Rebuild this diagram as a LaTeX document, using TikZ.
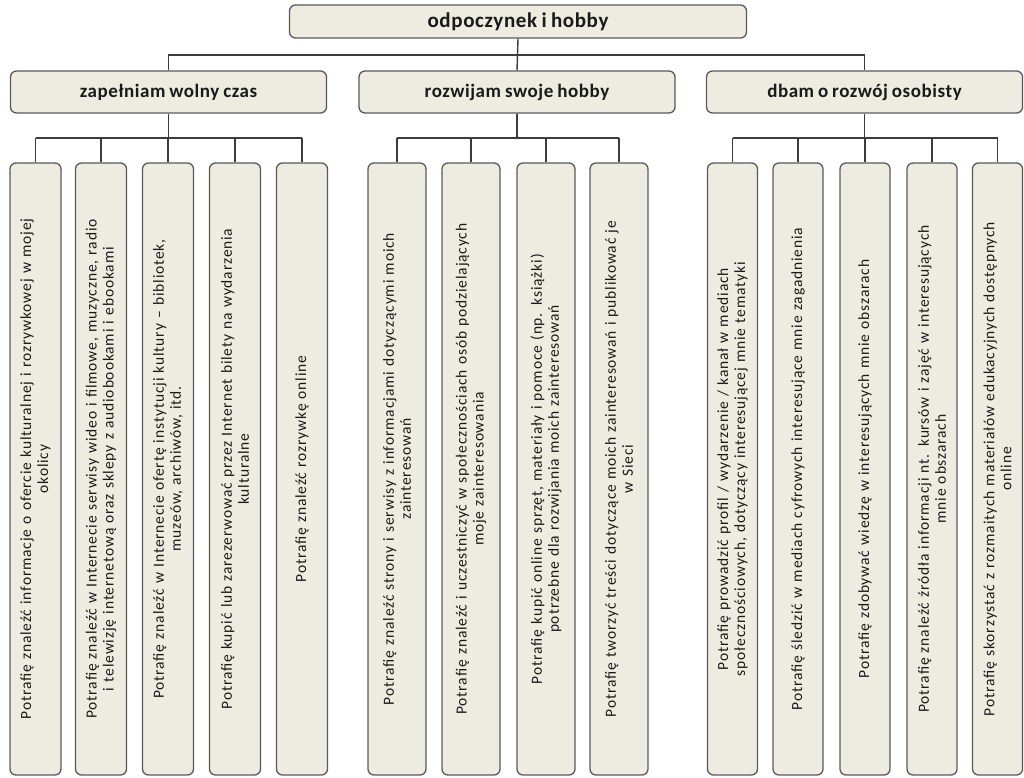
\documentclass[tikz,border=0pt]{standalone}
\usepackage{fontspec}
\setmainfont{Carlito}
\newfontfamily\leaffont{Carlito}[LetterSpace=5.5,WordSpace=0.7]
\newfontfamily\headfont{Carlito}[LetterSpace=3,WordSpace=0.8]
\definecolor{boxfill}{HTML}{EEEBE0}
\definecolor{boxline}{HTML}{5A5A5A}
\definecolor{wire}{HTML}{3C3C3C}
\definecolor{txt}{HTML}{1A1A1A}
\begin{document}
\begin{tikzpicture}[x=1pt,y=-1pt,
  every node/.style={text=txt},
  topbox/.style={draw=boxline,fill=boxfill,line width=1.3pt,rounded corners=6pt,
    minimum width=457pt,minimum height=33pt,inner sep=0pt,font=\headfont\fontsize{21}{23}\selectfont\bfseries},
  catbox/.style={draw=boxline,fill=boxfill,line width=1.3pt,rounded corners=6pt,
    minimum width=316pt,minimum height=42pt,inner sep=0pt,font=\headfont\fontsize{19}{21}\selectfont\bfseries},
  leaf/.style={draw=boxline,fill=boxfill,line width=1.3pt,rounded corners=6pt,rotate=90,
    minimum width=612pt,minimum height=#1,inner sep=0pt,text width=606pt,align=center,
    font=\leaffont\fontsize{15.5}{17}\selectfont},
  leaf/.default=51pt,
  wirestyle/.style={draw=wire,line width=1.4pt}
]
\useasboundingbox (0,0) rectangle (1024,778);
% top
\node[topbox] (top) at (518,21.5) {odpoczynek i hobby};
% categories
\node[catbox] (c1) at (168.5,92) {zapełniam wolny czas};
\node[catbox] (c2) at (517,92) {rozwijam swoje hobby};
\node[catbox] (c3) at (864.5,92) {dbam o rozwój osobisty};
\coordinate (b1) at (0,55);
\coordinate (b2) at (0,138);
% leaves: zapelniam
\node[leaf] (z1) at (35.5,469) {Potrafię znaleźć informacje o ofercie kulturalnej i rozrywkowej w mojej\\ okolicy};
\node[leaf] (z2) at (101,469) {Potrafię znaleźć w Internecie serwisy wideo i filmowe, muzyczne, radio\\ i telewizję internetową oraz sklepy z audiobookami i ebookami};
\node[leaf] (z3) at (168,469) {Potrafię znaleźć w Internecie ofertę instytucji kultury – bibliotek,\\ muzeów, archiwów, itd.};
\node[leaf] (z4) at (235,469) {Potrafię kupić lub zarezerwować przez Internet bilety na wydarzenia\\ kulturalne};
\node[leaf] (z5) at (302,469) {Potrafię znaleźć rozrywkę online};
% leaves: rozwijam
\node[leaf=58pt] (r1) at (397,469) {Potrafię znaleźć strony i serwisy z informacjami dotyczącymi moich\\ zainteresowań};
\node[leaf=58pt] (r2) at (471,469) {Potrafię znaleźć i uczestniczyć w społecznościach osób podzielających\\ moje zainteresowania};
\node[leaf=58pt] (r3) at (546,469) {Potrafię kupić online sprzęt, materiały i pomoce (np. książki)\\ potrzebne dla rozwijania moich zainteresowań};
\node[leaf=58pt] (r4) at (619,469) {Potrafię tworzyć treści dotyczące moich zainteresowań i publikować je\\ w Sieci};
% leaves: dbam
\node[leaf=50pt] (d1) at (732.5,469) {Potrafię prowadzić profil / wydarzenie / kanał w mediach\\ społecznościowych, dotyczący interesującej mnie tematyki};
\node[leaf=50pt] (d2) at (798,469) {Potrafię śledzić w mediach cyfrowych interesujące mnie zagadnienia};
\node[leaf=50pt] (d3) at (865,469) {Potrafię zdobywać wiedzę w interesujących mnie obszarach};
\node[leaf=50pt] (d4) at (932,469) {Potrafię znaleźć źródła informacji nt. kursów i zajęć w interesujących\\ mnie obszarach};
\node[leaf=50pt] (d5) at (997.5,469) {Potrafię skorzystać z rozmaitych materiałów edukacyjnych dostępnych\\ online};
% connectors top level
\draw[wirestyle] (top.south) -- (c2.north);
\draw[wirestyle] (c1.north) |- (c3.north |- b1) -- (c3.north);
% connectors to leaves
\draw[wirestyle] (c1.south) -- (c1.south |- b2);
\draw[wirestyle] (z1.east |- b2) -- (z5.east |- b2);
\foreach \n in {z1,z2,z3,z4,z5} \draw[wirestyle] (\n.east) -- (\n.east |- b2);
\draw[wirestyle] (c2.south) -- (c2.south |- b2);
\draw[wirestyle] (r1.east |- b2) -- (r4.east |- b2);
\foreach \n in {r1,r2,r3,r4} \draw[wirestyle] (\n.east) -- (\n.east |- b2);
\draw[wirestyle] (c3.south) -- (c3.south |- b2);
\draw[wirestyle] (d1.east |- b2) -- (d5.east |- b2);
\foreach \n in {d1,d2,d3,d4,d5} \draw[wirestyle] (\n.east) -- (\n.east |- b2);
\end{tikzpicture}
\end{document}
